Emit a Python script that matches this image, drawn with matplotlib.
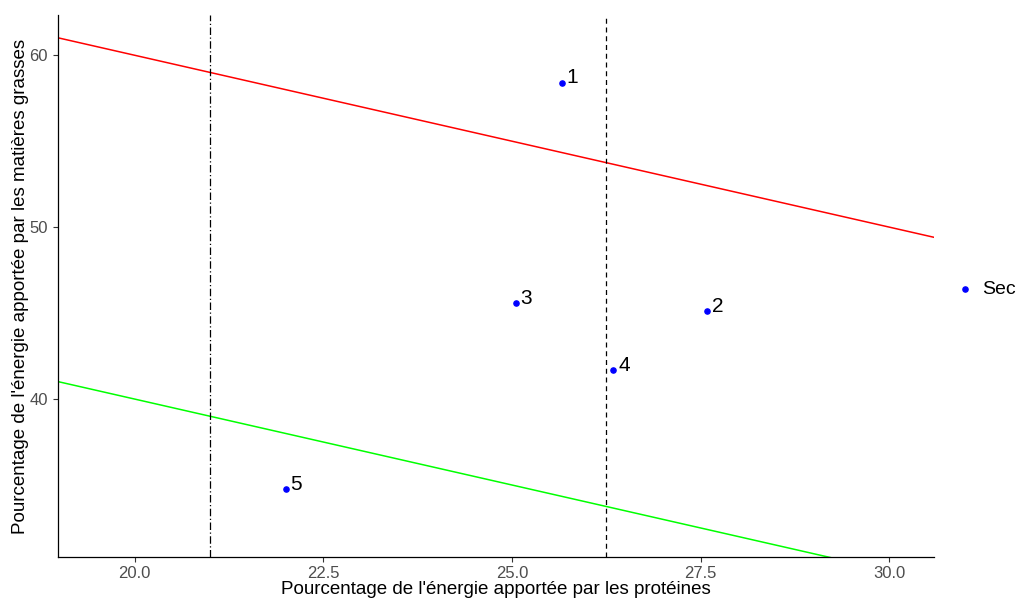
import matplotlib
matplotlib.use("Agg")
from matplotlib import pyplot as plt
import numpy as np

plt.rcParams['font.family'] = ['Liberation Sans', 'DejaVu Sans']

# data
prot = [25.66, 27.58, 25.05, 26.34, 22.00]
fat = [58.41, 45.13, 45.56, 41.67, 34.77]
labels = ["1", "2", "3", "4", "5"]
vlines = [21.0, 26.25]
vstyles = [(0, (6, 2, 1, 2)), (0, (4, 3))]
# lines y = a + b*x
lines_a = [80, 60]
lines_b = [-1, -1]
lines_col = ["red", "#00ff00"]

fig = plt.figure(figsize=(10.16, 5.99), dpi=100)
ax = fig.add_axes([0.0568, 0.0706, 0.8625, 0.904])

xlim = (18.98, 30.59)
ylim = (30.83, 62.33)

for a, b, c in zip(lines_a, lines_b, lines_col):
    xs = np.array(xlim)
    ax.plot(xs, a + b * xs, color=c, lw=1.1)

for v, ls in zip(vlines, vstyles):
    ax.axvline(v, color="black", lw=0.9, linestyle=ls)

ax.scatter(prot, fat, s=14, color="blue", zorder=3, label="Sec")
for x, y, t in zip(prot, fat, labels):
    ax.annotate(t, (x, y), xytext=(3.5, 3.5), textcoords="offset points",
                ha="left", va="center", fontsize=15, color="black")

ax.set_xlim(xlim)
ax.set_ylim(ylim)
ax.set_xticks([20, 22.5, 25, 27.5, 30])
ax.set_xticklabels(["20.0", "22.5", "25.0", "27.5", "30.0"])
ax.set_yticks([40, 50, 60])
ax.tick_params(colors="#333333", labelcolor="#4d4d4d", labelsize=12, length=3.5, width=0.8)

for s in ["top", "right"]:
    ax.spines[s].set_visible(False)
for s in ["left", "bottom"]:
    ax.spines[s].set_linewidth(0.9)

ax.set_xlabel("Pourcentage de l'énergie apportée par les protéines", fontsize=13.5, labelpad=0)
ax.set_ylabel("Pourcentage de l'énergie apportée par les matières grasses", fontsize=13.5, labelpad=0)

leg = ax.legend(loc="center left", bbox_to_anchor=(0.94, 0.517), bbox_transform=fig.transFigure,
                frameon=False, fontsize=14, handlelength=1.0, handletextpad=0.4,
                borderpad=0, borderaxespad=0)

fig.savefig("out.png", dpi=100)
